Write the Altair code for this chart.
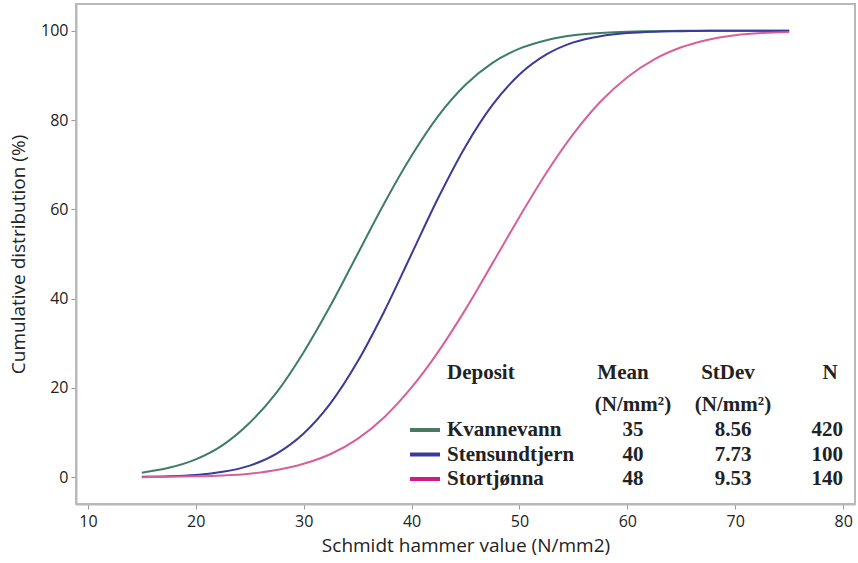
import altair as alt
import pandas as pd

# ---------------- data ----------------
x_vals = [15, 17.5, 20, 22.5, 25, 27.5, 30, 32.5, 35, 37.5, 40, 42.5, 45,
          47.5, 50, 52.5, 55, 57.5, 60, 62.5, 65, 67.5, 70, 72.5, 75]

kvannevann = [1.0, 2.1, 4.0, 7.2, 12.2, 19.0, 28.0, 38.5, 50.0, 61.5, 72.0,
              81.0, 87.9, 92.8, 96.0, 97.9, 99.0, 99.5, 99.8, 99.9, 100.0,
              100.0, 100.0, 100.0, 100.0]
stensundtjern = [0.1, 0.2, 0.5, 1.2, 2.6, 5.3, 9.8, 16.6, 25.9, 37.3, 50.0,
                 62.7, 74.1, 83.4, 90.2, 94.7, 97.4, 98.8, 99.5, 99.8, 99.9,
                 100.0, 100.0, 100.0, 100.0]
stortjonna = [0.0, 0.1, 0.2, 0.4, 0.8, 1.6, 3.0, 5.2, 8.6, 13.5, 20.1, 28.2,
              37.6, 47.9, 58.3, 68.2, 76.9, 84.1, 89.6, 93.6, 96.3, 98.0,
              99.0, 99.5, 99.7]

deposits = ["Kvannevann", "Stensundtjern", "Stortjønna"]
means = ["35", "40", "48"]
stdevs = ["8.56", "7.73", "9.53"]
ns = ["420", "100", "140"]

x_ticks = [10, 20, 30, 40, 50, 60, 70, 80]
y_ticks = [0, 20, 40, 60, 80, 100]

# ---------------- styles / layout ----------------
line_colors = ["#3f7c67", "#3a3a9a", "#d6609d"]
swatch_colors = ["#4a7a62", "#3a3a9c", "#cf1a8b"]
W, H = 779, 500
AX_FONT = "Open Sans"
TB_FONT = "Liberation Serif"
TB_SIZE = 21

rows = []
for name, ys in zip(deposits, [kvannevann, stensundtjern, stortjonna]):
    for xv, yv in zip(x_vals, ys):
        rows.append({"x": xv, "y": yv, "Deposit": name})
df = pd.DataFrame(rows)

lines = alt.Chart(df).mark_line(strokeWidth=2, interpolate="monotone").encode(
    x=alt.X("x:Q", scale=alt.Scale(domain=[8.9, 81.1], nice=False, zero=False),
            axis=alt.Axis(values=x_ticks, title="Schmidt hammer value (N/mm2)",
                          titlePadding=7)),
    y=alt.Y("y:Q", scale=alt.Scale(domain=[-6, 106], nice=False, zero=False),
            axis=alt.Axis(values=y_ticks, title="Cumulative distribution (%)",
                          titlePadding=12)),
    color=alt.Color("Deposit:N", scale=alt.Scale(domain=deposits, range=line_colors),
                    legend=None),
)

layers = [lines]

# legend table
hdr_y, unit_y, row0_y, row_gap = 369, 401, 426, 24.5
col_dep, col_mean, col_sd, col_n = 371, 557, 657, 767

def txt(text, x, y, align="left"):
    return alt.Chart(pd.DataFrame({"t": [text]})).mark_text(
        font=TB_FONT, fontSize=TB_SIZE, fontWeight="bold", color="#222222",
        align=align, baseline="middle"
    ).encode(text="t:N", x=alt.value(x), y=alt.value(y))

layers.append(txt("Deposit", col_dep, hdr_y))
layers.append(txt("Mean", col_mean - 10, hdr_y, "center"))
layers.append(txt("StDev", col_sd - 5, hdr_y, "center"))
layers.append(txt("N", col_n - 13, hdr_y, "center"))
layers.append(txt("(N/mm²)", col_mean, unit_y, "center"))
layers.append(txt("(N/mm²)", col_sd, unit_y, "center"))

for i in range(3):
    ry = row0_y + i * row_gap
    layers.append(
        alt.Chart(pd.DataFrame({"d": [deposits[i]]})).mark_rule(
            strokeWidth=4, color=swatch_colors[i]
        ).encode(x=alt.value(334), x2=alt.value(364), y=alt.value(ry))
    )
    layers.append(txt(deposits[i], col_dep, ry))
    layers.append(txt(means[i], col_mean, ry, "center"))
    layers.append(txt(stdevs[i], col_sd, ry, "center"))
    layers.append(txt(ns[i], col_n, ry, "right"))

chart = alt.layer(*layers).properties(
    width=W, height=H,
    autosize=alt.AutoSizeParams(type="none"),
    padding={"left": 76, "top": 4, "right": 3, "bottom": 59},
).configure_view(
    stroke="#b9b9b9", strokeWidth=2
).configure_axis(
    grid=False,
    domainColor="#b9b9b9", domainWidth=2,
    tickColor="#9a9a9a", tickSize=5, tickWidth=1,
    labelFont=AX_FONT, labelFontSize=16, labelColor="#222222", labelPadding=3,
    titleFont=AX_FONT, titleFontSize=19, titleFontWeight="normal", titleColor="#222222",
).configure_axisX(labelPadding=4)

chart.save("out.html", embed_options={"renderer": "svg", "actions": False})
